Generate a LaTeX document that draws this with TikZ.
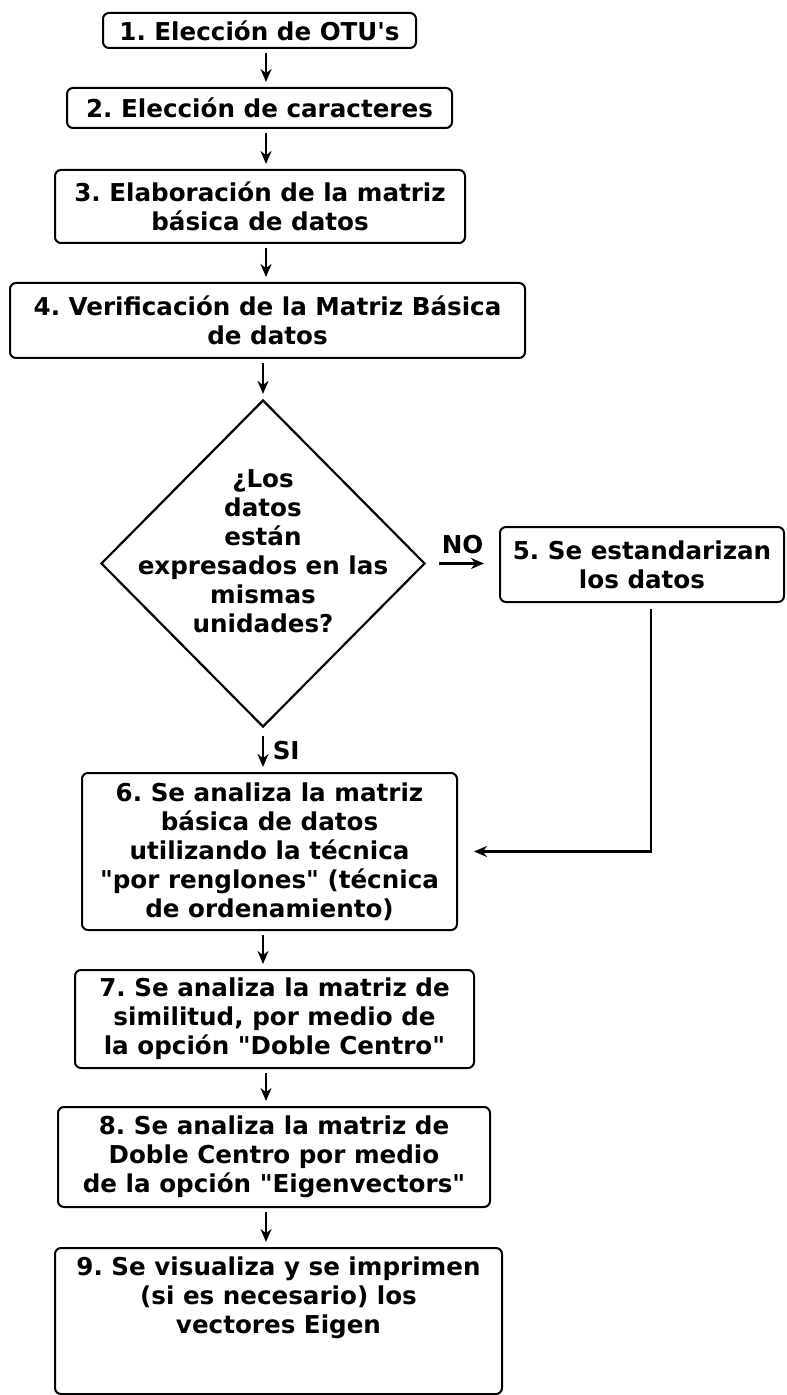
\documentclass[tikz,border=0pt]{standalone}
\usepackage{fontspec}
\setmainfont{DejaVu Sans}[Ligatures=TeXOff]
\usetikzlibrary{shapes.geometric, arrows.meta, positioning, calc}
\frenchspacing

\begin{document}
\begin{tikzpicture}[x=0.5pt, y=-0.5pt,
    font=\fontsize{12.3}{14.5}\selectfont\bfseries,
    stepbox/.style={draw, line width=1pt, rounded corners=3pt, align=center, inner sep=1pt},
    decision/.style={draw, diamond, line width=1.1pt, inner sep=0pt},
    arr/.style={-{Stealth[length=6.5pt, width=5.5pt]}, line width=1.1pt, shorten <=2pt, shorten >=2.5pt}]
            \useasboundingbox (0,0) rectangle (786,1395);
            \coordinate (axis) at (266,0);

            % Steps of the main column
            \node (b1) [stepbox, minimum width=156.5pt, minimum height=17.5pt] at (259.5,30.5) {1. Elección de OTU's};
            \node (b2) [stepbox, minimum width=192.5pt, minimum height=20pt] at (259.5,108) {2. Elección de caracteres};
            \node (b3) [stepbox, minimum width=205pt, minimum height=36.5pt] at (260,206.5) {3. Elaboración de la matriz\\básica de datos};
            \node (b4) [stepbox, minimum width=257.5pt, minimum height=37.5pt] at (267.5,320.5) {4. Verificación de la Matriz Básica\\de datos};

            % Decision and the side step
            \node (dec) [decision, minimum width=162pt, minimum height=163.5pt] at (263,563.5) {};
            \node (dectext) [align=center] at ([yshift=6pt]dec.center) {¿Los\\datos\\están\\expresados en las\\mismas\\unidades?};
            \node (b5) [stepbox, minimum width=142pt, minimum height=37.5pt] at (642,564.5) {5. Se estandarizan\\los datos};

            % Analysis steps
            \node (b6) [stepbox, minimum width=187.5pt, minimum height=78.5pt] at (269.5,851.5) {6. Se analiza la matriz\\básica de datos\\utilizando la técnica\\"por renglones" (técnica\\de ordenamiento)};
            \node (b7) [stepbox, minimum width=199.5pt, minimum height=49pt] at (274.5,1019) {7. Se analiza la matriz de\\similitud, por medio de\\la opción "Doble Centro"};
            \node (b8) [stepbox, minimum width=216pt, minimum height=50pt] at (274,1157) {8. Se analiza la matriz de\\Doble Centro por medio\\de la opción "Eigenvectors"};
            \node (b9) [stepbox, minimum width=223.5pt, anchor=north, text height=41.5pt, text depth=29.5pt] at (278.5,1247) {9. Se visualiza y se imprimen\\(si es necesario) los\\vectores Eigen};

            % Arrows between the steps
            \draw[arr] (b1.south -| axis) -- (b2.north -| axis);
            \draw[arr] (b2.south -| axis) -- (b3.north -| axis);
            \draw[arr] (b3.south -| axis) -- (b4.north -| axis);
            \draw[arr] (b4.south -| dec.north) -- (dec.north);
            \draw[arr, shorten <=4pt] (dec.south) -- (dec.south |- b6.north) node[midway, right=1pt] {SI};
            \draw[arr, shorten <=6.5pt, shorten >=7.5pt] (dec.east) -- (dec.east -| b5.west) node[midway, above=1pt] {NO};
            \draw[arr, shorten <=3pt, shorten >=8pt] ([xshift=4.5pt]b5.south) |- (b6.east);
            \draw[arr] (b6.south -| dec.south) -- (b7.north -| dec.south);
            \draw[arr] (b7.south -| axis) -- (b8.north -| axis);
            \draw[arr] (b8.south -| axis) -- (b9.north -| axis);
        \end{tikzpicture}
\end{document}
